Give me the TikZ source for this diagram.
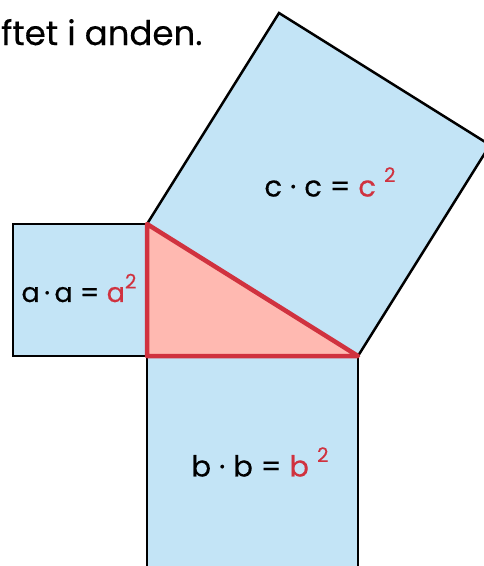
\documentclass[tikz,border=0pt]{standalone}
\usepackage{fontspec}
\setmainfont{Poppins}
\newfontfamily\lblfont{Poppins}[FakeBold=0.4]
\usetikzlibrary{calc}
\definecolor{sqblue}{HTML}{C3E4F6}
\definecolor{trired}{HTML}{D0323F}
\definecolor{trifill}{HTML}{FFB9B1}
\newcommand{\sqr}[1]{\raisebox{0.5em}{\fontsize{20}{24}\selectfont #1}}

\begin{document}
\begin{tikzpicture}[x=1pt, y=-1pt,
    sq/.style={fill=sqblue, draw=black, line width=2.5pt},
    lbl/.style={font=\lblfont\fontsize{29}{34}\selectfont, inner sep=0pt}]
  \useasboundingbox (0,0) rectangle (484,566);
  \clip (0,0) rectangle (484,566);
  % Hjørner af trekanten
  \coordinate (C) at (147,356);
  \coordinate (B) at (147,224);
  \coordinate (A) at (358,356);
  % Kvadrater på siderne
  \draw[sq] (B) rectangle (13,356);
  \draw[sq] (C) -- (A) -- ($(A)+(0,240)$) -- ($(C)+(0,240)$) -- cycle;
  \draw[sq] (B) -- (A) -- ($(A)+(132,-211)$) -- ($(B)+(132,-211)$) -- cycle;
  % Trekanten
  \filldraw[fill=trifill, draw=trired, line width=4.5pt, line join=round] (C) -- (B) -- (A) -- cycle;
  % Tekster
  \node[anchor=base west, font=\lblfont\fontsize{34}{40}\selectfont, inner sep=0pt] (top) at (1,45) {ftet i anden.};
  \node[lbl, font=\lblfont\fontsize{27}{32}\selectfont] (asq) at (79,288) {a\,·\,a = \textcolor{trired}{a\sqr{2}}};
  \node[lbl] (csq) at (330,182) {c\;·\;c = \textcolor{trired}{c\;\sqr{2}}};
  \node[lbl] (bsq) at (260,462) {b\;·\;b = \textcolor{trired}{b\;\sqr{2}}};
\end{tikzpicture}
\end{document}
